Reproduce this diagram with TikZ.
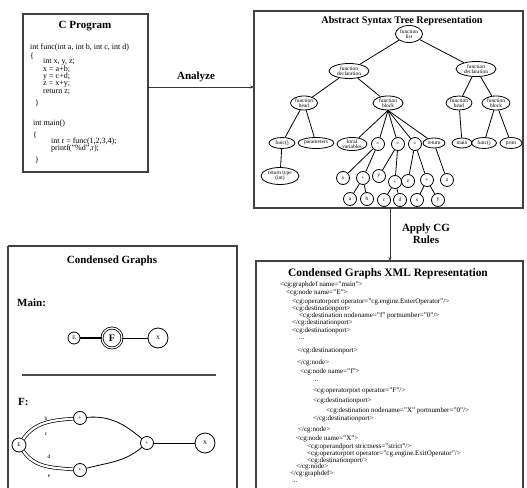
\documentclass[tikz,border=0pt]{standalone}
\usepackage{fontspec}
\setmainfont{Liberation Serif}
\usetikzlibrary{shapes.geometric,arrows.meta}
\begin{document}
\begin{tikzpicture}[x=1pt,y=-1pt,
  frame/.style={draw=black!75,line width=1.1pt},
  ttl/.style={font=\bfseries\fontsize{11}{11}\selectfont,inner sep=0},
  code/.style={font=\fontsize{8}{8}\selectfont,anchor=west,inner sep=0},
  xml/.style={font=\fontsize{7}{7}\selectfont,anchor=west,inner sep=0},
  el/.style={ellipse,draw,line width=0.8pt,inner sep=0,align=center,
    font=\fontsize{5.4}{5.4}\selectfont},
  ci/.style={circle,draw,line width=0.8pt,inner sep=0,minimum size=13pt,
    font=\fontsize{5.4}{5.4}\selectfont},
  tree/.style={line width=0.8pt},
  flow/.style={line width=1pt,draw=black!80,-{Stealth[length=4pt,width=3pt]}},
  cg/.style={circle,draw,line width=0.8pt,inner sep=0,font=\fontsize{5.5}{5.5}\selectfont},
  cgedge/.style={line width=0.8pt},
  dbl/.style={double,double distance=2.2pt,line width=0.7pt},
  lbl/.style={font=\fontsize{5.5}{5.5}\selectfont,inner sep=0}
]
\useasboundingbox (0,0) rectangle (527,487);

% ---------- C program ----------
\draw[frame] (23,14) rectangle (148,172);
\node[ttl] (ctitle) at (85,26) {C Program};
\node[code] (c1) at (30,48) {int func(int a, int b, int c, int d)};
\node[code] (c2) at (30,56) {\{};
\node[code] (c3) at (43,61.5) {int x, y, z;};
\node[code] (c4) at (43,69) {x = a+b;};
\node[code] (c5) at (43,76.5) {y = c+d;};
\node[code] (c6) at (43,84) {z = x+y;};
\node[code] (c7) at (43,91.5) {return z;};
\node[code] (c8) at (35,103) {\}};
\node[code] (c9) at (33,124) {int main()};
\node[code] (c10) at (33,135) {\{};
\node[code] (c11) at (51,141.5) {int r = func(1,2,3,4);};
\node[code] (c12) at (51,149) {printf("\%d",r);};
\node[code] (c13) at (35,160) {\}};

% ---------- abstract syntax tree ----------
\draw[frame] (254,11) rectangle (523,208);
\node[ttl,font=\bfseries\fontsize{10.2}{10}\selectfont] (asttitle) at (402,21) {Abstract Syntax Tree Representation};

\node[el,minimum width=27pt,minimum height=17pt] (fl) at (409,34) {function\\list};
\node[el,minimum width=40pt,minimum height=15pt] (fd1) at (349,71) {function\\declaration};
\node[el,minimum width=40pt,minimum height=15pt] (fd2) at (476,69) {function\\declaration};
\node[el,minimum width=27pt,minimum height=14pt] (fh1) at (304,103) {function\\head};
\node[el,minimum width=30pt,minimum height=14pt] (fb1) at (388,103) {function\\block};
\node[el,minimum width=26pt,minimum height=14pt] (fh2) at (459,103) {function\\head};
\node[el,minimum width=28pt,minimum height=14pt] (fb2) at (496,103) {function\\block};

\node[el,minimum width=26pt,minimum height=11pt] (fn1) at (282,143) {func()};
\node[el,minimum width=36pt,minimum height=11pt] (par) at (316,143) {parameters};
\node[el,minimum width=38pt,minimum height=17pt] (rt) at (280,176) {return type\\(int)};
\node[el,minimum width=30pt,minimum height=13pt] (lv) at (352,144) {local\\variables};
\node[ci] (eq1) at (378,144) {=};
\node[ci] (eq2) at (398,144) {=};
\node[ci] (eq3) at (415,144) {=};
\node[el,minimum width=22pt,minimum height=10pt] (ret) at (434,143) {return};
\node[el,minimum width=20pt,minimum height=10pt] (mn) at (462,143) {main};
\node[el,minimum width=25pt,minimum height=11pt] (fn2) at (484,143) {func()};
\node[el,minimum width=22pt,minimum height=11pt] (pr) at (511,143) {print};

\node[ci] (x1) at (343,178) {x};
\node[ci] (p1) at (363,178) {+};
\node[ci] (y1) at (379,176) {y};
\node[ci] (p2) at (395,182) {+};
\node[ci] (z1) at (408,181) {z};
\node[ci] (p3) at (427,180) {+};
\node[ci] (z2) at (447,180) {z};

\node[ci] (na) at (350,199) {a};
\node[ci] (nb) at (367,199) {b};
\node[ci] (nc) at (384,200) {c};
\node[ci] (nd) at (400,200) {d};
\node[ci] (nx) at (417,200) {x};
\node[ci] (ny) at (438,200) {y};

\draw[tree] (fl) -- (fd1);
\draw[tree] (fl) -- (fd2);
\draw[tree] (fd1) -- (fh1);
\draw[tree] (fd1) -- (fb1);
\draw[tree] (fd2) -- (fh2);
\draw[tree] (fd2) -- (fb2);
\draw[tree] (fh1) -- (fn1);
\draw[tree] (fh1) -- (par);
\draw[tree] (fn1) -- (rt);
\draw[tree] (fb1.south) -- (lv);
\draw[tree] (fb1.south) -- (eq1);
\draw[tree] (fb1.south) -- (eq2);
\draw[tree] (fb1.south) -- (eq3);
\draw[tree] (fb1.south) -- (ret);
\draw[tree] (eq1) -- (x1);
\draw[tree] (eq1) -- (p1);
\draw[tree] (eq2) -- (y1);
\draw[tree] (eq2) -- (p2);
\draw[tree] (eq3) -- (z1);
\draw[tree] (eq3) -- (p3);
\draw[tree] (ret) -- (z2);
\draw[tree] (p1) -- (na);
\draw[tree] (p1) -- (nb);
\draw[tree] (p2) -- (nc);
\draw[tree] (p2) -- (nd);
\draw[tree] (p3) -- (nx);
\draw[tree] (p3) -- (ny);
\draw[tree] (fh2) -- (mn);
\draw[tree] (fb2) -- (fn2);
\draw[tree] (fb2) -- (pr);

% ---------- flow arrows ----------
\coordinate (cR) at (148,87);
\coordinate (aL) at (254,87);
\draw[flow] (cR) -- (aL);
\node[ttl] (analyze) at (196,77) {Analyze};
\coordinate (aB) at (390,208);
\coordinate (xT) at (390,261);
\draw[flow] (aB) -- (xT);
\node[ttl,align=center] (apply) at (426,234) {Apply CG\\[1pt]Rules};

% ---------- condensed graphs ----------
\draw[frame] (8,246) -- (8,490);
\draw[frame] (8,246) -- (237,246) -- (237,490);
\node[ttl] (cgtitle) at (112,261) {Condensed Graphs};
\node[ttl,anchor=west] (mainlbl) at (17,303) {Main:};
\node[cg,minimum size=12pt] (mE) at (74,338) {E};
\node[cg,double,double distance=1.2pt,minimum size=20pt,font=\bfseries\fontsize{10}{10}\selectfont] (mF) at (112,338) {F};
\node[cg,minimum size=20pt] (mX) at (158,338) {X};
\draw[cgedge,line width=1.1pt] (mE) -- (mF);
\draw[cgedge] (mF) -- (mX);
\coordinate (divL) at (22,375);
\coordinate (divR) at (216,375);
\draw[draw=black!70,line width=1.3pt] (divL) -- (divR);
\node[ttl,anchor=west] (flbl) at (18,402) {F:};

\node[cg,minimum size=14pt] (fE) at (19,445) {E};
\node[cg,minimum size=13pt] (fP1) at (80,418) {+};
\node[cg,minimum size=13pt] (fP2) at (80,470) {+};
\node[cg,minimum size=13pt] (fP3) at (147,443) {+};
\node[cg,minimum size=20pt] (fX) at (205,443) {X};
\draw[cgedge,dbl] (fE) to[out=55,in=185] (fP1);
\draw[cgedge,dbl] (fE) to[out=-55,in=175] (fP2);
\draw[cgedge] (fP1) to[out=5,in=140] (fP3);
\draw[cgedge] (fP2) to[out=15,in=-140] (fP3);
\draw[cgedge] (fP3) -- (fX);
\node[lbl] (lb) at (46,419) {b};
\node[lbl] (lc) at (46,434) {c};
\node[lbl] (ld) at (49,457) {d};
\node[lbl] (le) at (49,476) {e};

% ---------- XML representation ----------
\draw[frame] (256,490) -- (256,261) -- (523,261) -- (523,490);
\node[ttl,font=\bfseries\fontsize{11.4}{11}\selectfont] (xmltitle) at (388,274) {Condensed Graphs XML Representation};
\node[xml] (l1) at (280,285) {<cg:graphdef name="main">};
\node[xml] (l2) at (286,293) {<cg:node name="E">};
\node[xml] (l3) at (292,302) {<cg:operatorport operator="cg.engine.EnterOperator"/>};
\node[xml] (l4) at (292,309) {<cg:destinationport>};
\node[xml] (l5) at (299,316) {<cg:destination nodename="f" portnumber="0"/>};
\node[xml] (l6) at (292,323) {</cg:destinationport>};
\node[xml] (l7) at (292,331) {<cg:destinationport>};
\node[xml] (l8) at (299,339) {...};
\node[xml] (l9) at (297,351) {</cg:destinationport>};
\node[xml] (l10) at (297,363) {</cg:node>};
\node[xml] (l11) at (300,372) {<cg:node name="f">};
\node[xml] (l12) at (313,381) {...};
\node[xml] (l13) at (313,391) {<cg:operatorport operator="F"/>};
\node[xml] (l14) at (313,401) {<cg:destinationport>};
\node[xml] (l15) at (326,411) {<cg:destination nodename="X" portnumber="0"/>};
\node[xml] (l16) at (313,419) {</cg:destinationport>};
\node[xml] (l17) at (298,430) {</cg:node>};
\node[xml] (l18) at (296,439) {<cg:node name="X">};
\node[xml] (l19) at (307,447) {<cg:operandport strictness="strict"/>};
\node[xml] (l20) at (307,454) {<cg:operatorport operator="cg.engine.ExitOperator"/>};
\node[xml] (l21) at (307,461) {<cg:destinationport/>};
\node[xml] (l22) at (296,467) {</cg:node>};
\node[xml] (l23) at (290,474) {</cg:graphdef>};
\node[xml] (l24) at (292,482) {...};
\end{tikzpicture}
\end{document}
